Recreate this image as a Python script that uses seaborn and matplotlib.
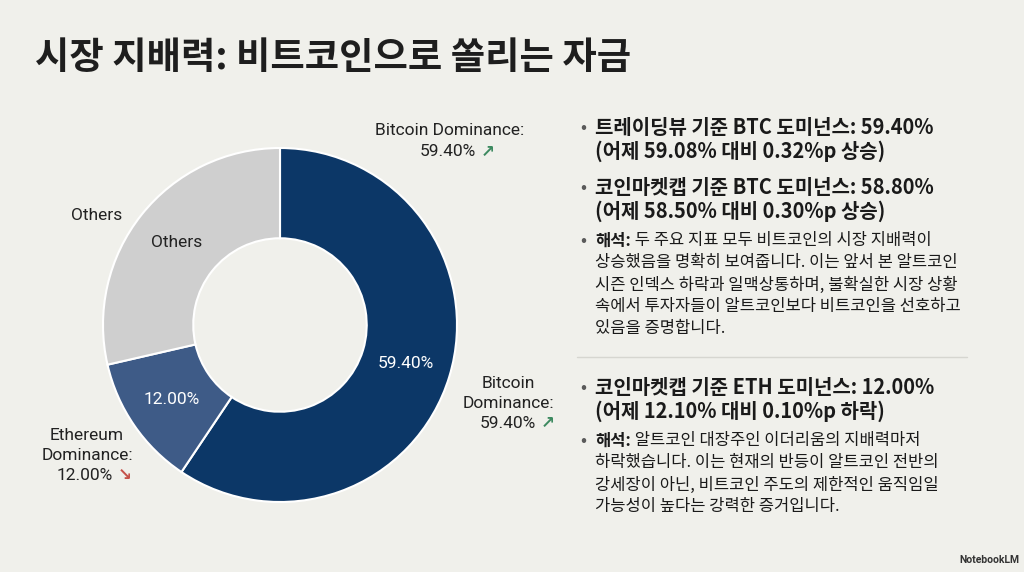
import matplotlib
matplotlib.use("Agg")
import matplotlib.pyplot as plt
import seaborn as sns
import numpy as np

# ---- data ----
segments = ["Bitcoin", "Ethereum", "Others"]
shares = [59.40, 12.00, 28.60]
inner_labels = ["59.40%", "12.00%", "Others"]
title = "시장 지배력: 비트코인으로 쏠리는 자금"
bullet_blocks = [
    {"bold": ["트레이딩뷰 기준 BTC 도미넌스: 59.40%", "(어제 59.08% 대비 0.32%p 상승)"], "lead": None, "rest": []},
    {"bold": ["코인마켓캡 기준 BTC 도미넌스: 58.80%", "(어제 58.50% 대비 0.30%p 상승)"], "lead": None, "rest": []},
    {"bold": [], "lead": "해석:", "rest": [" 두 주요 지표 모두 비트코인의 시장 지배력이",
                                        "상승했음을 명확히 보여줍니다. 이는 앞서 본 알트코인",
                                        "시즌 인덱스 하락과 일맥상통하며, 불확실한 시장 상황",
                                        "속에서 투자자들이 알트코인보다 비트코인을 선호하고",
                                        "있음을 증명합니다."]},
    {"bold": ["코인마켓캡 기준 ETH 도미넌스: 12.00%", "(어제 12.10% 대비 0.10%p 하락)"], "lead": None, "rest": []},
    {"bold": [], "lead": "해석:", "rest": [" 알트코인 대장주인 이더리움의 지배력마저",
                                        "하락했습니다. 이는 현재의 반등이 알트코인 전반의",
                                        "강세장이 아닌, 비트코인 주도의 제한적인 움직임일",
                                        "가능성이 높다는 강력한 증거입니다."]},
]

sns.set_theme(style="white")
BG = "#f0f0eb"
KR = ["Noto Sans CJK KR", "DejaVu Sans"]
LAT = ["Roboto", "DejaVu Sans"]
plt.rcParams["font.family"] = KR

colors = ["#0c3767", "#3e5b87", "#cfcfcf"]
W, H = 1024, 572
fig = plt.figure(figsize=(W / 100, H / 100), dpi=100, facecolor=BG)

def fx(x):
    return x / W

def fy(y):
    return 1 - y / H

# donut axes: center (280, 325), radius 177 px
cx, cy, R = 280, 325, 177
ax = fig.add_axes([fx(cx - R), fy(cy + R), 2 * R / W, 2 * R / H])
ax.set_facecolor(BG)
hole = 0.49
wedges, _ = ax.pie(shares, colors=colors, startangle=90, counterclock=False,
                   radius=1.0, wedgeprops=dict(width=1 - hole, edgecolor="white", linewidth=1.5))
ax.set_xlim(-1, 1)
ax.set_ylim(-1, 1)
ax.set_axis_off()

rmid = (1 + hole) / 2
txt_colors = ["white", "white", "#222222"]
for w, lab, tc in zip(wedges, inner_labels, txt_colors):
    ang = np.deg2rad((w.theta1 + w.theta2) / 2)
    ax.text(rmid * np.cos(ang), rmid * np.sin(ang), lab, ha="center", va="center",
            color=tc, fontsize=12.5, family=LAT)

GREEN = "#3d8a60"
RED = "#c5524a"
LBL = "#222222"

def label_line(x, y, s, arrow=None, acolor=None, ha="center"):
    t = fig.text(fx(x), fy(y), s, ha=ha, va="center", fontsize=12.5, color=LBL, family=LAT)
    if arrow:
        fig.canvas.draw()
        bb = t.get_window_extent()
        fig.text((bb.x1 + 5) / W, fy(y), arrow, ha="left", va="center", fontsize=12,
                 fontweight="bold", color=acolor, family=["DejaVu Sans"])
    return t

# outer labels
label_line(450, 131, "Bitcoin Dominance:")
label_line(448, 152, "59.40%", "↗", GREEN)
label_line(97, 216, "Others")
label_line(508, 383, "Bitcoin")
label_line(508, 403, "Dominance:")
label_line(508, 423, "59.40%", "↗", GREEN)
label_line(87, 436, "Ethereum")
label_line(87, 455, "Dominance:")
label_line(85, 475, "12.00%", "↘", RED)

# title
fig.text(fx(35), fy(57), title, ha="left", va="center", fontsize=26.9, fontweight="heavy",
         color="#1e1e1e", family=KR)

# right-hand bullets
TXT = "#1a1a1a"
bx, tx = 583, 595
lh_bold, lh_reg = 23, 22
starts = [128, 188, 241, 388, 441]
for blk, y0 in zip(bullet_blocks, starts):
    fig.text(fx(bx), fy(y0), "•", ha="center", va="center", fontsize=13, color="#5a5a5a", family=KR)
    y = y0
    for line in blk["bold"]:
        fig.text(fx(tx), fy(y), line, ha="left", va="center", fontsize=14.4, fontweight="heavy",
                 color=TXT, family=KR)
        y += lh_bold
    if blk["lead"]:
        t = fig.text(fx(tx), fy(y), blk["lead"], ha="left", va="center", fontsize=11.9,
                     fontweight="heavy", color=TXT, family=KR)
        fig.canvas.draw()
        bb = t.get_window_extent()
        for i, line in enumerate(blk["rest"]):
            x0 = bb.x1 / W if i == 0 else fx(tx)
            fig.text(x0, fy(y), line, ha="left", va="center", fontsize=11.9, color=TXT, family=KR)
            y += lh_reg

# separator
fig.add_artist(plt.Line2D([fx(577), fx(967)], [fy(357), fy(357)], color="#d6d6d0", lw=1.0))

# footer
fig.text(fx(1019), fy(560), "NotebookLM", ha="right", va="center", fontsize=7.5,
         fontweight="bold", color="#333333", family=LAT)

fig.savefig("out.png", dpi=100, facecolor=BG)
